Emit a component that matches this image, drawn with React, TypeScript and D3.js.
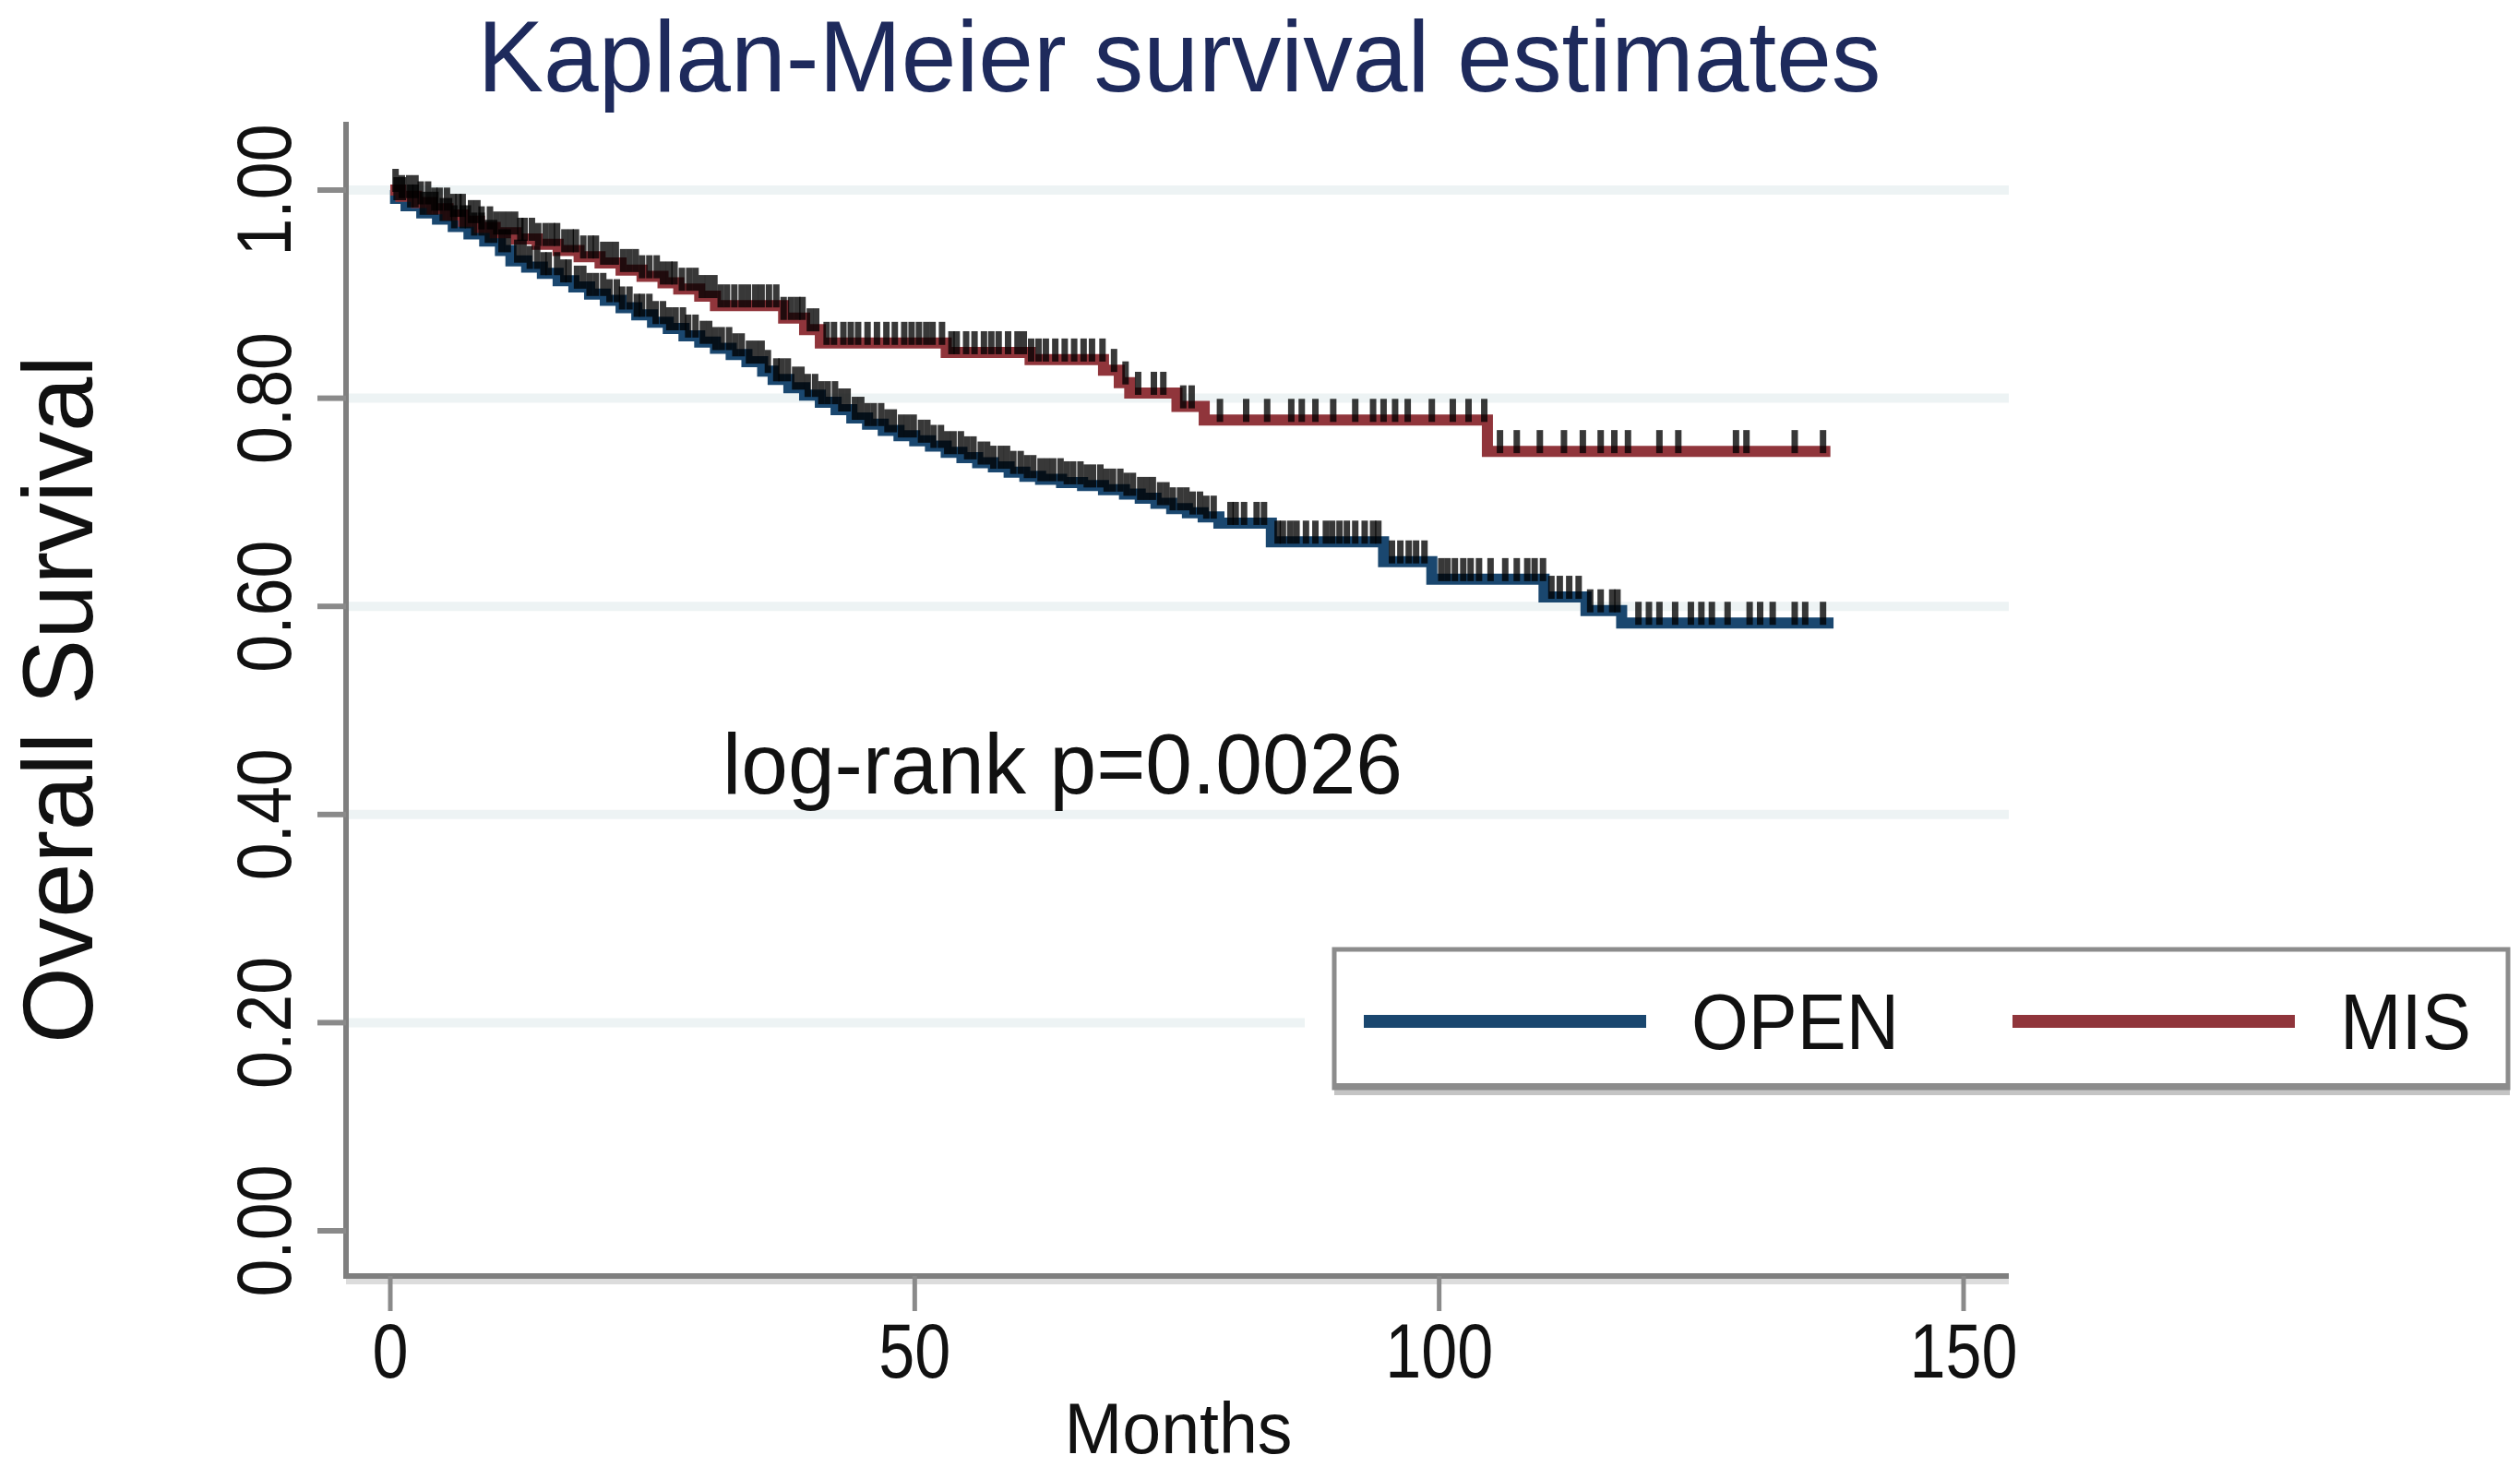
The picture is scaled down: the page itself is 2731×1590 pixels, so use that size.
import React from "react";
import * as d3 from "d3";

// ---- Data ----
const openTimes = [0, 0.5, 1.5, 3, 4.5, 6, 7.5, 9, 10.5, 11.5, 13, 14.5, 16, 17.5, 19, 20.5, 22, 23.5, 25, 26.5, 28, 29.5, 31, 32.5, 34, 35.5, 36.5, 38, 39.5, 41, 42.5, 44, 45.5, 47, 48.5, 50, 51.5, 53, 54.5, 56, 57.5, 59, 60.5, 62, 64, 66, 68, 70, 71.5, 73, 74.5, 76, 77.5, 79, 84, 94.7, 99.3, 110, 114, 117.4];
const openSurv = [1.0, 0.992, 0.985, 0.978, 0.972, 0.965, 0.958, 0.951, 0.942, 0.932, 0.926, 0.92, 0.913, 0.907, 0.9, 0.894, 0.887, 0.88, 0.873, 0.867, 0.86, 0.854, 0.848, 0.842, 0.835, 0.826, 0.818, 0.81, 0.803, 0.796, 0.789, 0.781, 0.775, 0.769, 0.764, 0.759, 0.754, 0.748, 0.743, 0.738, 0.734, 0.729, 0.725, 0.722, 0.719, 0.716, 0.712, 0.708, 0.704, 0.699, 0.694, 0.69, 0.686, 0.68, 0.662, 0.643, 0.626, 0.609, 0.596, 0.584];
const openEnd = 137.6;
const openCensored = [0.6, 1.2, 1.9, 2.4, 3.1, 3.7, 4.3, 5.0, 5.6, 6.1, 6.9, 7.4, 8.0, 8.7, 9.3, 9.9, 10.6, 11.2, 12.1, 12.7, 13.3, 14.0, 14.6, 15.1, 15.9, 16.5, 17.0, 17.8, 18.4, 19.0, 19.6, 20.3, 20.9, 21.6, 22.1, 22.8, 23.5, 24.0, 24.7, 25.3, 26.0, 26.6, 27.2, 27.9, 28.4, 29.1, 29.8, 30.4, 31.0, 31.6, 32.3, 32.9, 33.5, 34.2, 34.8, 35.4, 36.0, 36.8, 37.3, 37.9, 38.6, 39.2, 39.8, 40.5, 41.1, 41.7, 42.4, 43.0, 43.6, 44.3, 44.9, 45.5, 46.1, 46.8, 47.4, 48.0, 48.7, 49.3, 49.9, 50.6, 51.2, 51.8, 52.5, 53.1, 53.7, 54.4, 55.0, 55.6, 56.3, 56.9, 57.5, 58.2, 58.8, 59.4, 60.1, 60.7, 61.3, 62.0, 62.6, 63.2, 63.9, 64.5, 65.1, 65.8, 66.4, 67.0, 67.7, 68.3, 68.9, 69.6, 70.2, 70.8, 71.5, 72.1, 72.7, 73.4, 74.0, 74.6, 75.3, 75.9, 76.5, 77.2, 77.8, 78.5, 80.1, 80.6, 81.4, 82.6, 83.3, 84.6, 85.1, 85.8, 86.4, 87.3, 88.2, 89.2, 89.8, 90.5, 91.2, 92.0, 92.9, 93.7, 94.2, 95.5, 96.3, 97.1, 97.8, 98.6, 100.2, 100.8, 101.5, 102.3, 103.0, 103.8, 104.9, 106.3, 107.4, 108.4, 109.1, 109.9, 110.7, 111.5, 112.4, 113.3, 114.4, 115.4, 116.5, 117.0, 119.0, 120.0, 121.0, 122.5, 124.0, 125.0, 126.0, 127.5, 129.6, 130.6, 131.8, 133.9, 134.9, 136.6];

const misTimes = [0, 1, 2.5, 4, 5.5, 7, 8.5, 10, 12, 14, 16, 18, 20, 22, 24, 26, 27.5, 29.5, 31, 37.5, 39.5, 41, 53, 61, 68, 69.5, 70.5, 75, 77.6, 104.6];
const misSurv = [1.0, 0.994, 0.988, 0.982, 0.976, 0.97, 0.964, 0.959, 0.953, 0.948, 0.942, 0.936, 0.93, 0.923, 0.917, 0.911, 0.905, 0.898, 0.889, 0.877, 0.866, 0.853, 0.844, 0.837, 0.827, 0.815, 0.805, 0.792, 0.779, 0.749];
const misEnd = 137.3;
const misCensored = [0.5, 1.1, 1.8, 2.4, 2.9, 3.6, 4.2, 4.7, 5.4, 6.0, 6.5, 6.9, 7.7, 8.3, 8.7, 9.5, 10.1, 10.7, 11.3, 11.9, 12.4, 12.8, 13.5, 14.1, 14.8, 15.4, 15.9, 16.6, 17.2, 17.7, 18.4, 19.1, 19.6, 20.3, 20.9, 21.5, 22.2, 22.8, 23.4, 24.0, 24.7, 25.4, 26.0, 26.6, 27.1, 27.8, 28.5, 29.1, 29.7, 30.3, 30.9, 31.5, 32.1, 32.8, 33.5, 34.1, 34.8, 35.4, 36.1, 36.8, 37.5, 38.2, 38.8, 39.3, 40.0, 40.6, 41.6, 42.3, 43.2, 43.9, 44.6, 45.5, 46.4, 47.3, 48.1, 49.0, 49.7, 50.4, 51.1, 51.7, 52.6, 53.5, 54.0, 54.9, 55.7, 56.6, 57.3, 58.0, 58.9, 59.8, 60.4, 61.1, 61.8, 62.5, 63.4, 64.3, 65.2, 66.1, 66.9, 67.9, 69.0, 70.1, 71.3, 72.8, 73.7, 75.6, 76.4, 79.1, 81.6, 83.6, 85.9, 86.9, 88.2, 89.9, 92.0, 93.7, 94.7, 95.8, 97.0, 99.3, 101.3, 102.8, 104.3, 105.8, 107.4, 109.6, 111.9, 113.7, 115.4, 116.7, 118.0, 121.0, 122.8, 128.3, 129.3, 133.9, 136.6];

const xTicks = [0, 50, 100, 150];
const yTicks = [0, 0.2, 0.4, 0.6, 0.8, 1.0];
const yTickLabels = ["0.00", "0.20", "0.40", "0.60", "0.80", "1.00"];
const gridValues = [0.2, 0.4, 0.6, 0.8, 1.0];
const seriesNames = ["OPEN", "MIS"];

const titleText = "Kaplan-Meier survival estimates";
const xLabel = "Months";
const yLabel = "Overall Survival";
const note = "log-rank p=0.0026";

const FONT = "'Liberation Sans', Arial, Helvetica, sans-serif";
const BLUE = "#1a476f";
const RED = "#90353b";

export default function App() {
  const W = 2731, H = 1590;
  const x = d3.scaleLinear().domain([0, 150]).range([423, 2128]);
  const y = d3.scaleLinear().domain([0, 1]).range([1334, 206]);
  const axisLeft = 375, axisRight = 2177, axisTop = 132, axisBottom = 1383;

  const stepLine = d3
    .line<[number, number]>()
    .x((d) => x(d[0]))
    .y((d) => y(d[1]))
    .curve(d3.curveStepAfter);

  const makePts = (times: number[], surv: number[], end: number): [number, number][] => {
    const pts: [number, number][] = times.map((t, i) => [t, surv[i]]);
    pts.push([end, surv[surv.length - 1]]);
    return pts;
  };
  const survAt = (times: number[], surv: number[], t: number) => {
    const i = d3.bisectRight(times, t) - 1;
    return surv[Math.max(0, i)];
  };

  const series = [
    { name: seriesNames[0], color: BLUE, pts: makePts(openTimes, openSurv, openEnd), times: openTimes, surv: openSurv, cens: openCensored },
    { name: seriesNames[1], color: RED, pts: makePts(misTimes, misSurv, misEnd), times: misTimes, surv: misSurv, cens: misCensored },
  ];

  return (
    <svg width={W} height={H} style={{ position: "absolute", left: 0, top: 0, background: "#fff" }} fontFamily={FONT}>
      <rect x={0} y={0} width={W} height={H} fill="#fff" />
      {/* Title */}
      <text x={1278} y={99} textAnchor="middle" fontSize={110} fill="#1e2a5c" textLength={1521} lengthAdjust="spacingAndGlyphs">
        {titleText}
      </text>

      {/* Gridlines */}
      {gridValues.map((g) => (
        <line key={g} x1={axisLeft + 3} x2={axisRight} y1={y(g)} y2={y(g)} stroke="#edf3f4" strokeWidth={10} />
      ))}

      {/* Axes */}
      <line x1={axisLeft} x2={axisLeft} y1={axisTop} y2={axisBottom + 3} stroke="#7f7f7f" strokeWidth={6} />
      <line x1={axisLeft - 3} x2={axisRight} y1={axisBottom} y2={axisBottom} stroke="#7f7f7f" strokeWidth={6} />
      <line x1={axisLeft} x2={axisRight} y1={axisBottom + 6} y2={axisBottom + 6} stroke="#dcdcdc" strokeWidth={6} />

      {yTicks.map((t, i) => (
        <g key={"yt" + t}>
          <line x1={axisLeft - 31} x2={axisLeft} y1={y(t)} y2={y(t)} stroke="#8a8a8a" strokeWidth={6} />
          <text
            transform={`translate(315, ${y(t)}) rotate(-90)`}
            textAnchor="middle"
            fontSize={84}
            fill="#111"
            textLength={143}
            lengthAdjust="spacingAndGlyphs"
          >
            {yTickLabels[i]}
          </text>
        </g>
      ))}

      {xTicks.map((t) => (
        <g key={"xt" + t}>
          <line x1={x(t)} x2={x(t)} y1={axisBottom} y2={axisBottom + 38} stroke="#8a8a8a" strokeWidth={5} />
          <text x={x(t)} y={1493} textAnchor="middle" fontSize={84} fill="#111" textLength={String(t).length * 39} lengthAdjust="spacingAndGlyphs">
            {String(t)}
          </text>
        </g>
      ))}

      {/* Axis titles */}
      <text x={1277} y={1575} textAnchor="middle" fontSize={77} fill="#111" textLength={247} lengthAdjust="spacingAndGlyphs">
        {xLabel}
      </text>
      <text transform="translate(100, 758) rotate(-90)" textAnchor="middle" fontSize={108} fill="#111" textLength={746} lengthAdjust="spacingAndGlyphs">
        {yLabel}
      </text>

      {/* Curves */}
      {series.map((s) => (
        <path key={s.name} d={stepLine(s.pts) || ""} fill="none" stroke={s.color} strokeWidth={12} strokeLinejoin="miter" strokeLinecap="butt" />
      ))}
      {/* Censor ticks */}
      {series.map((s) =>
        s.cens.map((c, i) => {
          const yy = y(survAt(s.times, s.surv, c));
          return (
            <line key={s.name + "c" + i} x1={x(c)} x2={x(c)} y1={yy + 2} y2={yy - 23} stroke="#000" strokeOpacity={0.78} strokeWidth={7} />
          );
        })
      )}

      {/* Note */}
      <text x={783} y={860} fontSize={92} fill="#111" textLength={737} lengthAdjust="spacingAndGlyphs">
        {note}
      </text>

      {/* Legend */}
      <rect x={1414} y={1012} width={1312} height={182} fill="#fff" />
      <rect x={1446} y={1181} width={1274} height={6} fill="#c4c4c4" />
      <rect x={1446} y={1029} width={1272} height={150} fill="#fff" stroke="#8c8c8c" strokeWidth={5} />
      <line x1={1446} x2={2718} y1={1177} y2={1177} stroke="#8c8c8c" strokeWidth={6} />
      <line x1={1478} x2={1784} y1={1107} y2={1107} stroke={BLUE} strokeWidth={14} />
      <text x={1833} y={1137} fontSize={85} fill="#111" textLength={225} lengthAdjust="spacingAndGlyphs">
        {seriesNames[0]}
      </text>
      <line x1={2181} x2={2487} y1={1107} y2={1107} stroke={RED} strokeWidth={14} />
      <text x={2536} y={1137} fontSize={85} fill="#111" textLength={142} lengthAdjust="spacingAndGlyphs">
        {seriesNames[1]}
      </text>
    </svg>
  );
}
